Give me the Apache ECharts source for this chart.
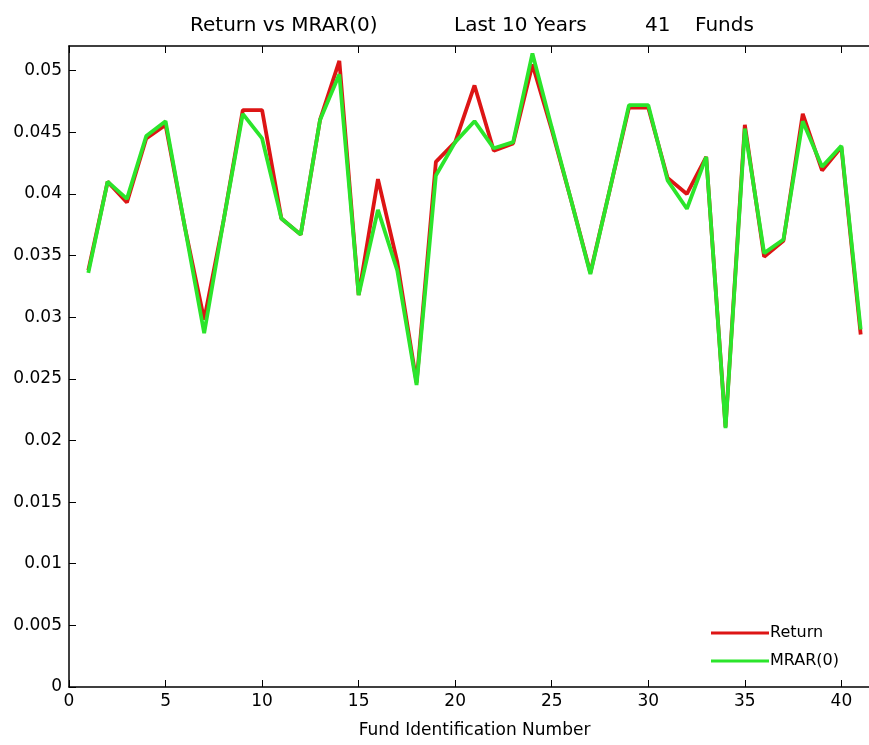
<!DOCTYPE html>
<html>
<head>
<meta charset="utf-8">
<script src="https://cdn.jsdelivr.net/npm/echarts@6/dist/echarts.min.js"></script>
<style>
  html, body { margin: 0; padding: 0; background: #fff; overflow: hidden; }
  /* the original figure is cropped on the right, so the chart is a bit wider than the window */
  #main { width: 880px; height: 745px; }
</style>
</head>
<body>
<div id="main"></div>
<script>
const fundIds = [1, 2, 3, 4, 5, 6, 7, 8, 9, 10, 11, 12, 13, 14, 15, 16, 17, 18, 19, 20,
    21, 22, 23, 24, 25, 26, 27, 28, 29, 30, 31, 32, 33, 34, 35, 36, 37, 38, 39, 40, 41];

const returnValues = [0.0338, 0.0410, 0.0393, 0.0445, 0.0456, 0.0373, 0.0298, 0.0378, 0.0468, 0.0468,
    0.0380, 0.0367, 0.0460, 0.0508, 0.0318, 0.0412, 0.0345, 0.0247, 0.0426, 0.0442,
    0.0488, 0.0435, 0.0441, 0.0505, 0.0452, 0.0395, 0.0336, 0.0403, 0.0470, 0.0470,
    0.0413, 0.0400, 0.0430, 0.0211, 0.0456, 0.0349, 0.0362, 0.0465, 0.0419, 0.0438, 0.0286];

const mrarValues = [0.0336, 0.0410, 0.0396, 0.0447, 0.0459, 0.0373, 0.0287, 0.0378, 0.0465, 0.0445,
    0.0380, 0.0367, 0.0460, 0.0497, 0.0318, 0.0387, 0.0338, 0.0245, 0.0415, 0.0442,
    0.0459, 0.0437, 0.0442, 0.0514, 0.0454, 0.0395, 0.0335, 0.0403, 0.0472, 0.0472,
    0.0411, 0.0388, 0.0430, 0.0210, 0.0453, 0.0352, 0.0363, 0.0459, 0.0422, 0.0439, 0.0290];

const titleParts = ['Return vs MRAR(0)', 'Last 10 Years', '41', 'Funds'];
const seriesNames = ['Return', 'MRAR(0)'];

const chart = echarts.init(document.getElementById('main'));
const font = 'DejaVu Sans';

const titlePos = [185, 449, 640, 690];

const toPairs = vals => fundIds.map((id, i) => [id, vals[i]]);

const boxLine = { onZero: false, lineStyle: { color: '#000', width: 1.5 } };
const inTick = { show: true, inside: true, length: 7, lineStyle: { color: '#000' } };

const option = {
    animation: false,
    backgroundColor: '#fff',
    title: titleParts.map((t, i) => ({
        text: t,
        left: titlePos[i],
        top: 11,
        textStyle: { fontFamily: font, fontSize: 20, fontWeight: 'normal', color: '#000' }
    })),
    legend: {
        orient: 'vertical',
        left: 706,
        top: 620,
        icon: 'rect',
        itemWidth: 58,
        itemHeight: 3,
        itemGap: 12,
        data: seriesNames,
        textStyle: { fontFamily: font, fontSize: 16, color: '#000', padding: [0, 0, 0, -4] }
    },
    grid: { left: 69, right: 0, top: 46, bottom: 58 },
    xAxis: [{
        type: 'value',
        min: 0,
        max: 42,
        interval: 5,
        name: 'Fund Identification Number',
        nameLocation: 'middle',
        nameGap: 35,
        nameTextStyle: { fontFamily: font, fontSize: 17, color: '#000' },
        axisLine: boxLine,
        axisTick: inTick,
        axisLabel: { fontFamily: font, fontSize: 17, color: '#000', margin: 6, showMaxLabel: false },
        splitLine: { show: false }
    }, {
        type: 'value',
        position: 'top',
        min: 0,
        max: 42,
        interval: 5,
        axisLine: boxLine,
        axisTick: inTick,
        axisLabel: { show: false },
        splitLine: { show: false }
    }],
    yAxis: [{
        type: 'value',
        min: 0,
        max: 0.052,
        interval: 0.005,
        axisLine: Object.assign({ show: true }, boxLine),
        axisTick: inTick,
        axisLabel: { fontFamily: font, fontSize: 17, color: '#000', margin: 7, showMaxLabel: false },
        splitLine: { show: false }
    }],
    series: [{
        name: seriesNames[0],
        type: 'line',
        data: toPairs(returnValues),
        showSymbol: false,
        color: '#dd1515',
        lineStyle: { width: 3.8, color: '#dd1515' }
    }, {
        name: seriesNames[1],
        type: 'line',
        data: toPairs(mrarValues),
        showSymbol: false,
        color: '#2be52b',
        lineStyle: { width: 3.8, color: '#2be52b' }
    }]
};

chart.setOption(option);
</script>
</body>
</html>
